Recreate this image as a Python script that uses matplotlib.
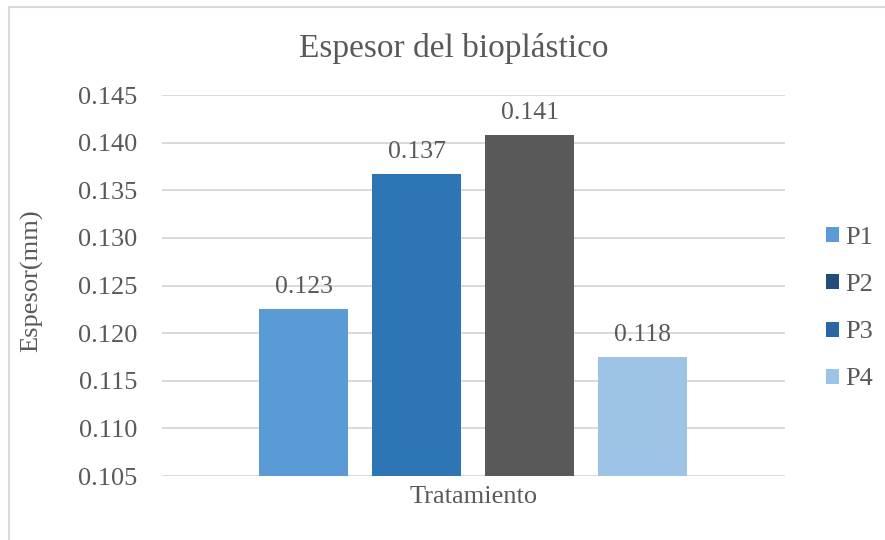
import matplotlib.pyplot as plt
from matplotlib.patches import Patch
from matplotlib.lines import Line2D
import numpy as np

# data
categories  = ["P1", "P2", "P3", "P4"]
values      = [0.1225, 0.1367, 0.1408, 0.1175]
bar_labels  = ["0.123", "0.137", "0.141", "0.118"]
bar_colors  = ["#5B9BD5", "#2E75B6", "#595959", "#9DC3E6"]
legend_cols = ["#5B9BD5", "#1F4E79", "#2A66A3", "#9DC3E6"]
yticks      = [0.105, 0.110, 0.115, 0.120, 0.125, 0.130, 0.135, 0.140, 0.145]

serif = ['Liberation Serif', 'DejaVu Serif']
plt.rcParams['font.family'] = serif
text_col = "#595959"

fig = plt.figure(figsize=(8.85, 5.4), dpi=100)
ax = fig.add_axes([0.183, 0.1185, 0.704, 0.7055])

x = np.arange(len(categories))
bars = ax.bar(x, values, width=0.783, color=bar_colors, zorder=3)

for b, lab in zip(bars, bar_labels):
	ax.annotate(lab, (b.get_x() + b.get_width() / 2, b.get_height()),
		xytext=(0, 8), textcoords="offset points", ha="center", va="bottom",
		fontsize=18.5, color=text_col, family=serif)

ax.set_ylim(0.105, 0.145)
ax.set_xlim(-1.253, 4.26)
ax.set_yticks(yticks)
ax.set_yticklabels(["%.3f" % t for t in yticks], family=serif, fontsize=19, color=text_col)
ax.set_xticks([])
ax.tick_params(axis="y", length=0, pad=18)
ax.yaxis.grid(True, color="#D9D9D9", linewidth=1.4, zorder=0)
for s in ax.spines.values():
	s.set_visible(False)

ax.set_xlabel("Tratamiento", fontsize=19, color=text_col, labelpad=7, family=serif)
fig.text(0.036, 0.48, "Espesor(mm)", rotation=90, ha="center", va="center",
	fontsize=19, color=text_col, family=serif)
fig.text(0.513, 0.91, "Espesor del bioplástico", ha="center", va="center",
	fontsize=24, color=text_col, family=serif)

handles = [Patch(facecolor=c, edgecolor="none") for c in legend_cols]
fig.legend(handles, categories, loc="center left", bbox_to_anchor=(0.906, 0.428),
	frameon=False, prop={'family': serif, 'size': 19}, handlelength=0.5, handleheight=0.5,
	handletextpad=0.25, labelspacing=0.95, labelcolor=text_col)

# chart frame (only top and left edges are visible)
fig.add_artist(Line2D([9/885, 1], [1 - 7/540, 1 - 7/540], color="#D9D9D9", linewidth=1.5))
fig.add_artist(Line2D([9/885, 9/885], [0, 1 - 7/540], color="#D9D9D9", linewidth=1.5))

fig.savefig("out.png", dpi=100)
